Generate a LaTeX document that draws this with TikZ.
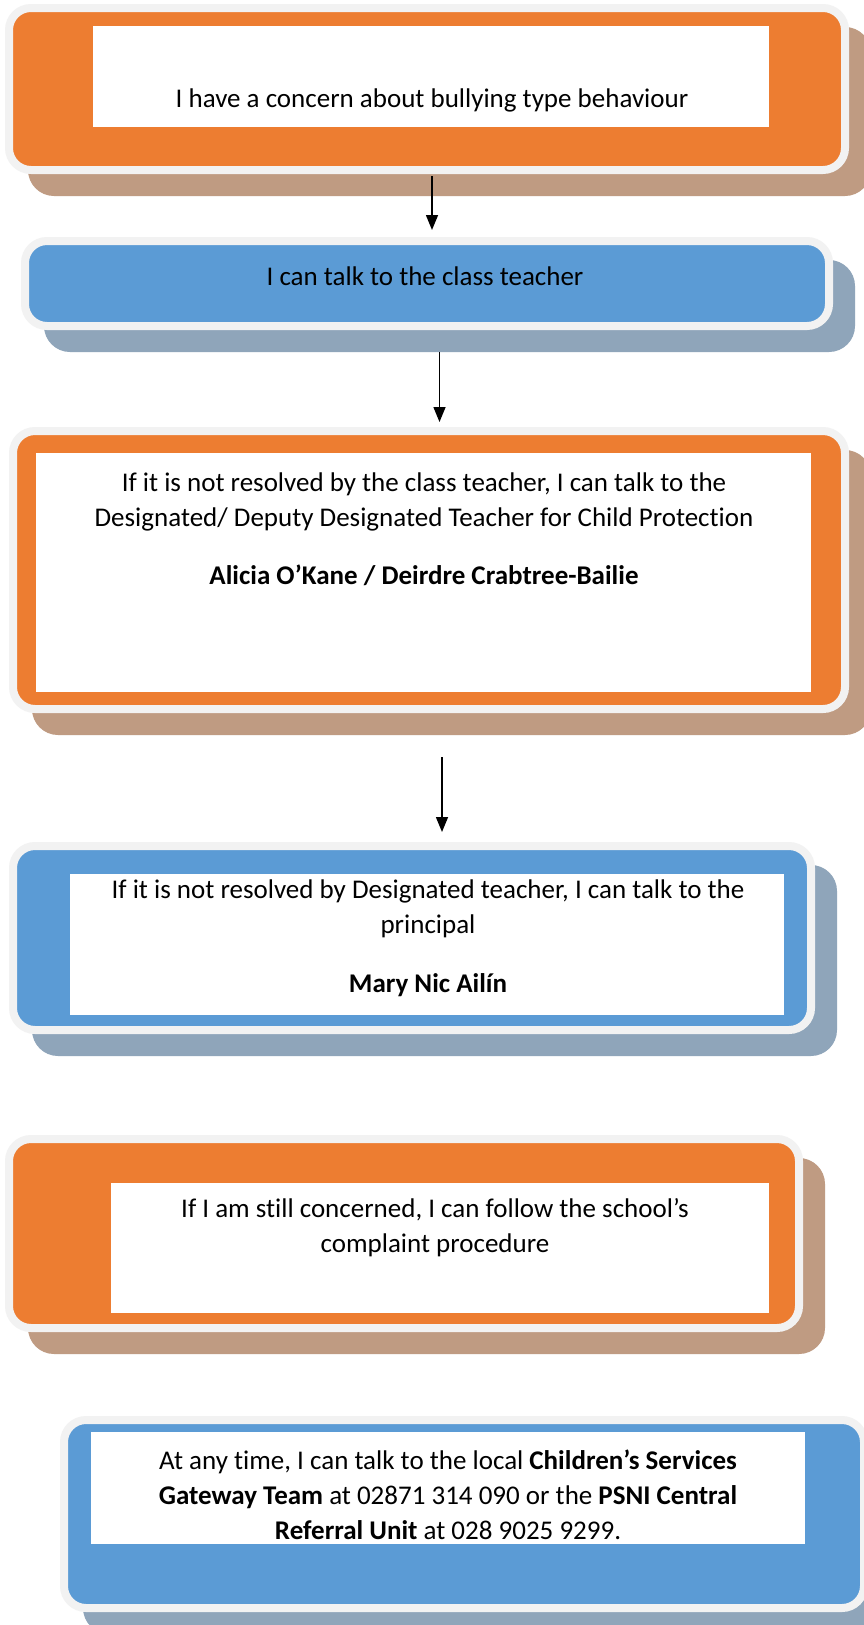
\documentclass[tikz,border=0pt]{standalone}
\usepackage{fontspec}
\setmainfont{Carlito}[Ligatures=NoCommon]
\usetikzlibrary{arrows.meta}
\definecolor{BoxOrange}{HTML}{ED7D31}
\definecolor{BoxBlue}{HTML}{5B9BD5}
\definecolor{FrameGrey}{HTML}{F2F2F2}
\definecolor{ShadowOrange}{HTML}{BF9B82}
\definecolor{ShadowBlue}{HTML}{8FA5BA}

\begin{document}
\begin{tikzpicture}[x=1pt,y=-1pt,
outbox/.style={draw=FrameGrey,line width=8pt,rounded corners=22pt,inner sep=0pt},
orangebox/.style={outbox,fill=BoxOrange},
bluebox/.style={outbox,fill=BoxBlue},
oshadow/.style={fill=ShadowOrange,rounded corners=26pt,inner sep=0pt},
bshadow/.style={fill=ShadowBlue,rounded corners=26pt,inner sep=0pt},
panel/.style={fill=white,inner sep=0pt},
txt/.style={align=center,font=\fontsize{27}{35}\selectfont},
arr/.style={-{Triangle[length=15pt,width=12pt]},line width=1.5pt}]

\fill[white] (0,0) rectangle (863,1625);
\useasboundingbox (0,0) rectangle (863,1625);

\node[oshadow,minimum width=843pt,minimum height=169pt] (s1) at (449.5,111.5) {};
\node[orangebox,minimum width=836pt,minimum height=162pt] (f1) at (427,89) {};
\node[panel,minimum width=676pt,minimum height=101pt] (p1) at (431,76.5) {};
\node[txt] (t1) at (432,100) {I have a concern about bullying type behaviour};

\node[bshadow,minimum width=811pt,minimum height=92pt] (s2) at (449.5,306) {};
\node[bluebox,minimum width=804pt,minimum height=85pt] (f2) at (427,283.5) {};
\node[txt] (t2) at (425,276) {I can talk to the class teacher};

\node[oshadow,minimum width=839pt,minimum height=285pt] (s3) at (451.5,592.5) {};
\node[orangebox,minimum width=832pt,minimum height=278pt] (f3) at (429,570) {};
\node[panel,minimum width=775pt,minimum height=239pt] (p3) at (423.5,572.5) {};
\node[txt] (t3) at (424,529.5) {If it is not resolved by the class teacher, I can talk to the\\
Designated/ Deputy Designated Teacher for Child Protection\\[23pt]
\textbf{Alicia O’Kane / Deirdre Crabtree-Bailie}};

\node[bshadow,minimum width=805pt,minimum height=191pt] (s4) at (434.5,960.5) {};
\node[bluebox,minimum width=798pt,minimum height=184pt] (f4) at (412,938) {};
\node[panel,minimum width=714pt,minimum height=141pt] (p4) at (427,944.5) {};
\node[txt] (t4) at (428,938.5) {If it is not resolved by Designated teacher, I can talk to the\\
principal\\[24pt]
\textbf{Mary Nic Ailín}};

\node[oshadow,minimum width=797pt,minimum height=196pt] (s5) at (426.5,1256) {};
\node[orangebox,minimum width=790pt,minimum height=189pt] (f5) at (404,1233.5) {};
\node[panel,minimum width=658pt,minimum height=130pt] (p5) at (440,1248) {};
\node[txt] (t5) at (435,1228) {If I am still concerned, I can follow the school’s\\
complaint procedure};

\node[bshadow,minimum width=807pt,minimum height=195pt] (s6) at (486.5,1536.5) {};
\node[bluebox,minimum width=800pt,minimum height=188pt] (f6) at (464,1514) {};
\node[panel,minimum width=714pt,minimum height=112pt] (p6) at (448,1488) {};
\node[txt] (t6) at (448,1495) {At any time, I can talk to the local \textbf{Children’s Services}\\
\textbf{Gateway Team} at 02871 314 090 or the \textbf{PSNI Central}\\
\textbf{Referral Unit} at 028 9025 9299.};

\draw[arr,shorten <=2pt,shorten >=7pt] ([xshift=5pt]f1.south) -- ([xshift=5pt]f2.north);
\draw[arr,shorten <=22pt,shorten >=5pt] ([xshift=12.5pt]f2.south) -- ([xshift=10.5pt]f3.north);
\draw[arr,shorten <=44pt,shorten >=10pt] ([xshift=13pt]f3.south) -- ([xshift=30pt]f4.north);

\end{tikzpicture}
\end{document}
